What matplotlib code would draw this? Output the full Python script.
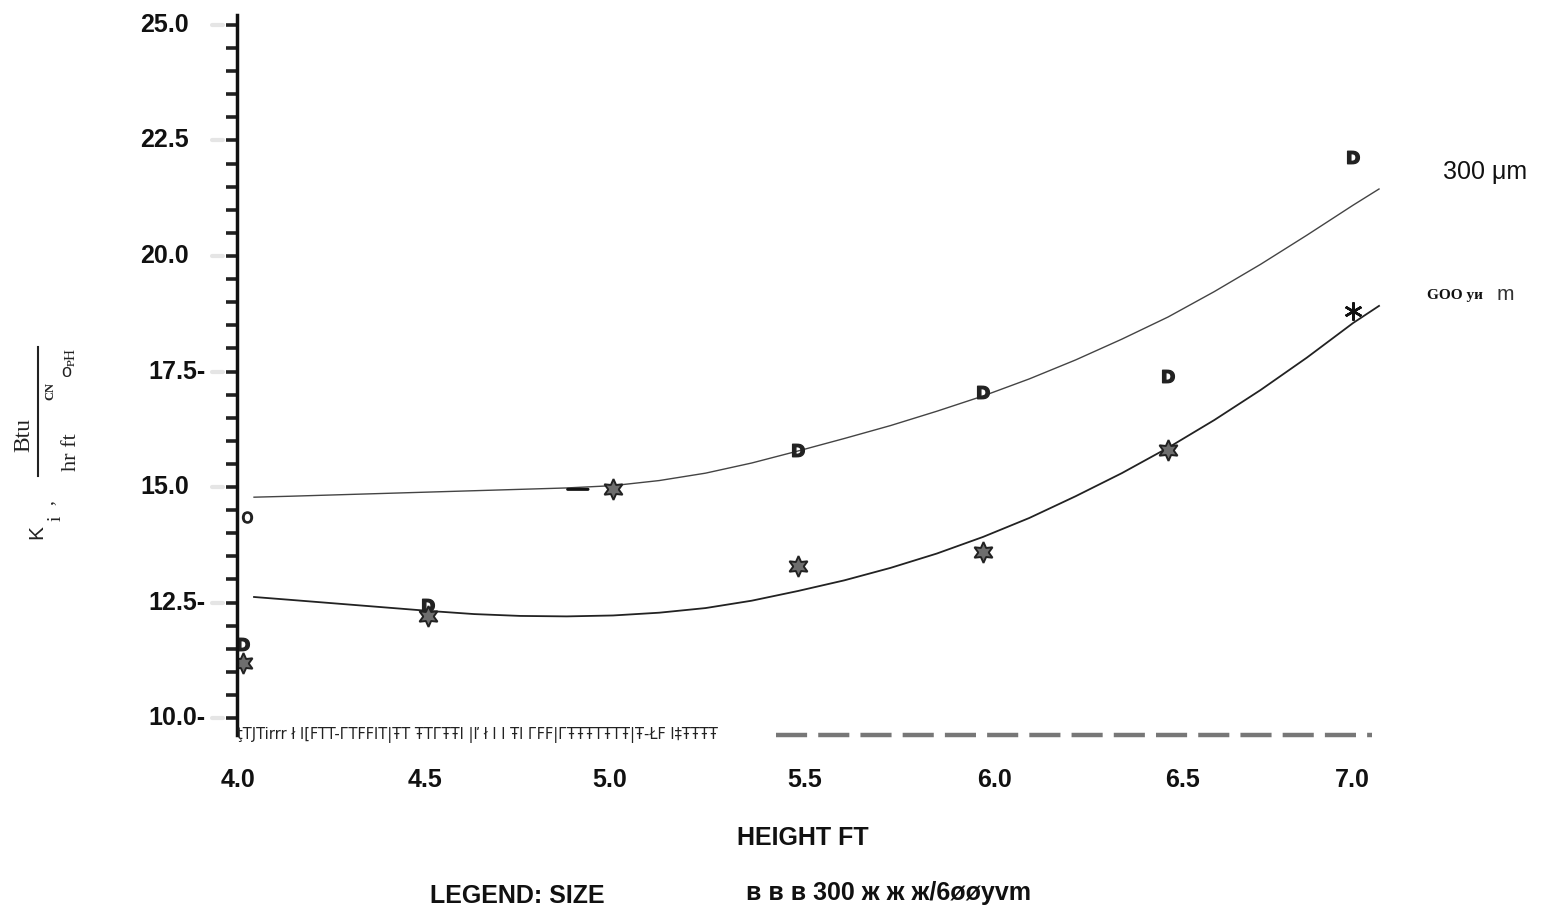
import numpy as np
import matplotlib
matplotlib.use("Agg")
import matplotlib.pyplot as plt
from matplotlib.lines import Line2D

# measured heat transfer coefficient vs bed height, two particle sizes
height = [4.0, 4.5, 5.0, 5.5, 6.0, 6.5, 7.0]
k_300 = [11.6, 12.45, None, 15.8, 17.05, 17.4, 22.15]
k_600 = [11.2, 12.2, 14.95, 13.3, 13.6, 15.8, 18.8]

# hand drawn trend curves
curve_x = [4.03, 4.125, 4.25, 4.375, 4.5, 4.625, 4.75, 4.875, 5.0, 5.125, 5.25, 5.375,
           5.5, 5.625, 5.75, 5.875, 6.0, 6.125, 6.25, 6.375, 6.5, 6.625, 6.75, 6.875,
           7.0, 7.07]
curve_300 = [14.78, 14.8, 14.83, 14.86, 14.89, 14.92, 14.95, 14.98, 15.03, 15.14, 15.3, 15.52,
             15.78, 16.05, 16.33, 16.64, 16.97, 17.34, 17.75, 18.2, 18.68, 19.23, 19.82, 20.45,
             21.1, 21.45]
curve_600 = [12.62, 12.56, 12.48, 12.4, 12.32, 12.25, 12.21, 12.2, 12.22, 12.28, 12.38, 12.54,
             12.75, 12.98, 13.25, 13.56, 13.92, 14.33, 14.8, 15.3, 15.85, 16.45, 17.1, 17.8,
             18.55, 18.92]

ytick_vals = [25.0, 22.5, 20.0, 17.5, 15.0, 12.5, 10.0]
ytick_text = ["25.0", "22.5", "20.0", "17.5-", "15.0", "12.5-", "10.0-"]
xtick_vals = [4.0, 4.5, 5.0, 5.5, 6.0, 6.5, 7.0]

W, H = 1541, 914
fig = plt.figure(figsize=(W / 100, H / 100), dpi=100)
ax = fig.add_axes([237 / W, (H - 735) / H, 1152 / W, 720 / H])
ax.set_xlim(3.984, 7.097)
ax.set_ylim(9.633, 25.216)
for s in ["top", "right", "bottom"]:
    ax.spines[s].set_visible(False)
ax.spines["left"].set_linewidth(2.5)
ax.spines["left"].set_color("#111111")
ax.set_xticks([])
ax.set_yticks(np.arange(10.0, 25.01, 0.5))
ax.set_yticklabels([])
ax.tick_params(axis="y", length=8, width=2.6, color="#222222", direction="out")

bold = dict(family="Liberation Sans", fontweight="bold", color="#111111")

# y tick labels, set left of the axis
for v, t in zip(ytick_vals, ytick_text):
    xf = (140 - 237) / 1152 if not t.endswith("-") else (148 - 237) / 1152
    ax.text(xf, v, t, transform=ax.get_yaxis_transform(), ha="left", va="center",
            fontsize=18, **bold)
    # smudge next to major ticks
    ax.plot([-0.022, -0.012], [v, v], transform=ax.get_yaxis_transform(), color="#cccccc",
            lw=3, alpha=0.5, clip_on=False, solid_capstyle="round")

xlab_px = [238, 425, 610, 805, 995, 1182, 1352]
for v, px in zip(xtick_vals, xlab_px):
    ax.text((px - 237) / 1152, -0.062, "%.1f" % v, transform=ax.transAxes, ha="center",
            va="center", fontsize=18, **bold)

# curves
ax.plot(curve_x, curve_300, color="#444444", lw=1.0)
ax.plot(curve_x, curve_600, color="#222222", lw=1.3)

# data points
hx = [x for x, y in zip(height, k_300) if y is not None]
hy = [y for y in k_300 if y is not None]
ax.plot(hx, hy, ls="none", marker=r"$\mathbf{D}$", ms=9, color="#222222")
ax.plot(height[:-1], k_600[:-1], ls="none", marker=(6, 1, 0), ms=15,
        markerfacecolor="#6e6e6e", markeredgecolor="#222222", markeredgewidth=1.4)
ax.plot(height[-1:], k_600[-1:], ls="none", marker=(6, 2, 0), ms=13,
        color="#111111", markeredgewidth=1.8)
ax.plot([4.01], [14.35], ls="none", marker=r"$\mathsf{O}$", ms=8, color="#222222")
ax.annotate("", xy=(4.94, 14.95), xytext=(4.87, 14.95),
            arrowprops=dict(arrowstyle="-", lw=2.2, color="#111111"))

# bottom axis: garbled ruler and dashed line
ax.text(0.0, 9.633, "ţTJTirrr ł I[FTT-ГTFFIT|ŦT ŦTГŦŦI |ľ ł I I ŦI ГFF|ГŦŦŦTŦTŦ|Ŧ-ŁF I‡ŦŦŦŦ",
        ha="left", va="center", fontsize=10.5, family="DejaVu Sans Condensed",
        color="#222222", transform=ax.get_yaxis_transform())
ax.add_line(Line2D([5.44, 7.05], [9.633, 9.633], color="#555555", lw=3.2,
                   dashes=(7, 2.5), alpha=0.8, clip_on=False))

# right side series labels
fig.text(1485 / W, 1 - 172 / H, "300 μm", fontsize=18, family="Liberation Sans",
         ha="center", va="center", color="#111111")
fig.text(1455 / W, 1 - 296 / H, "GOO yи", fontsize=11, family="Liberation Serif",
         fontweight="bold", ha="center", va="center", color="#111111")
fig.text(1505 / W, 1 - 294 / H, "m", fontsize=15, family="Liberation Sans",
         ha="center", va="center", color="#333333")

# y axis label pieces
serif = dict(family="Liberation Serif", color="#222222", rotation=90, ha="center", va="center")
fig.text(24 / W, 1 - 435 / H, "Btu", fontsize=17, **serif)
fig.text(72 / W, 1 - 452 / H, "hr ft", fontsize=16, **serif)
fig.text(50 / W, 1 - 391 / H, "CN", fontsize=9, fontweight="bold", **serif)
fig.text(66 / W, 1 - 372 / H, "o", fontsize=13, family="Liberation Sans", color="#222222",
         ha="center", va="center")
fig.text(71 / W, 1 - 357 / H, "ᴘH", fontsize=11, **serif)
fig.text(37 / W, 1 - 532 / H, "K", fontsize=15, family="Liberation Sans", rotation=90,
         ha="center", va="center", color="#222222")
fig.text(56 / W, 1 - 518 / H, "i", fontsize=14, **serif)
fig.text(48 / W, 1 - 503 / H, ",", fontsize=14, **serif)
fig.add_artist(Line2D([38 / W, 38 / W], [1 - 476 / H, 1 - 347 / H], color="#222222", lw=1.5))

# axis title and legend text
fig.text(803 / W, 1 - 838 / H, "HEIGHT FT", fontsize=18, ha="center", va="center", **bold)
fig.text(517 / W, 1 - 896 / H, "LEGEND: SIZE", fontsize=18, ha="center", va="center", **bold)
fig.text(888 / W, 1 - 893 / H, "в в в 300 ж ж ж/6øøyvm", fontsize=18, ha="center",
         va="center", **bold)

fig.savefig("out.png", dpi=100)
